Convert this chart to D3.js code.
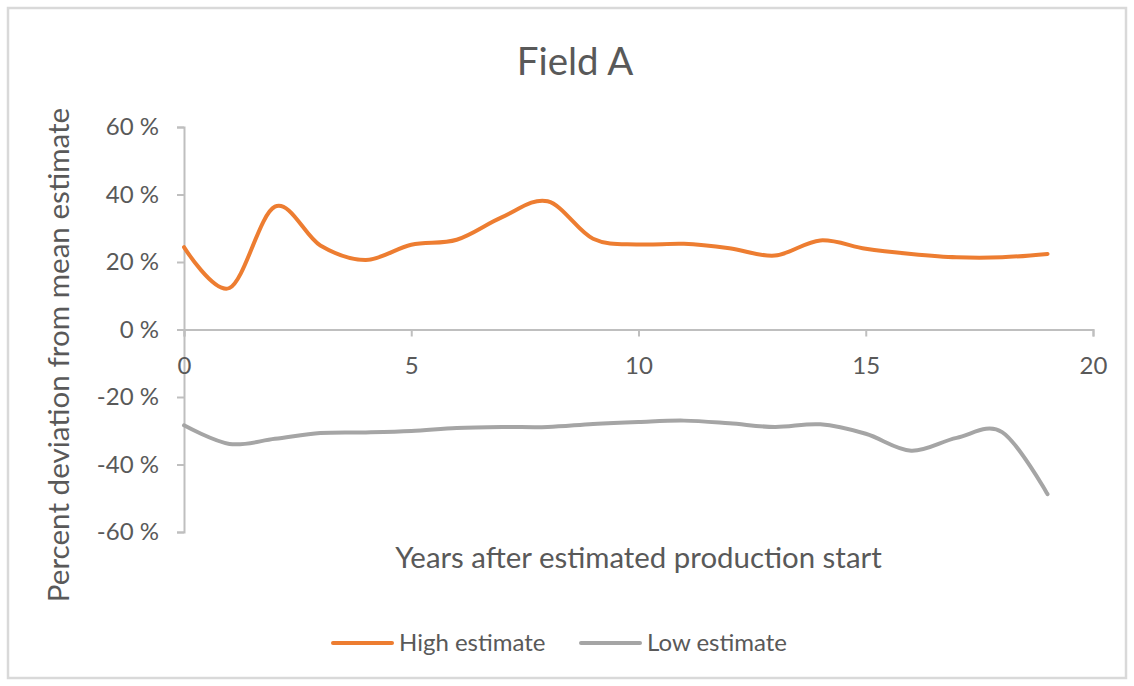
<!DOCTYPE html>
<html>
<head>
<meta charset="utf-8">
<script src="https://cdn.jsdelivr.net/npm/d3@7"></script>
<style>
  html, body { margin: 0; padding: 0; background: #fff; }
  svg { display: block; }
  text { font-family: Lato, "Open Sans", sans-serif; fill: #595959; }
</style>
</head>
<body>
<svg id="chart" width="1134" height="686"></svg>
<script>
// Years after estimated production start
const years = [0, 1, 2, 3, 4, 5, 6, 7, 8, 9, 10, 11, 12, 13, 14, 15, 16, 17, 18, 19];
// Percent deviation from mean estimate
const highEstimate = [24.4, 12.3, 36.4, 24.9, 20.6, 25.1, 26.6, 33.3, 38.0, 26.9, 25.2, 25.4, 24.1, 21.9, 26.4, 23.9, 22.4, 21.4, 21.4, 22.4];
const lowEstimate = [-28.4, -33.9, -32.4, -30.7, -30.5, -30.1, -29.2, -28.9, -28.9, -28.0, -27.4, -27.0, -27.8, -28.9, -28.1, -30.9, -35.9, -32.1, -30.4, -48.8];
const xTicks = [0, 5, 10, 15, 20];
const yTicks = [60, 40, 20, 0, -20, -40, -60];
const seriesNames = ["High estimate", "Low estimate"];
const seriesColors = ["#ED7D31", "#A5A5A5"];

const svg = d3.select("#chart");

// Chart border
svg.append("rect")
  .attr("x", 8).attr("y", 8)
  .attr("width", 1118).attr("height", 670)
  .attr("fill", "#fff")
  .attr("stroke", "#d9d9d9")
  .attr("stroke-width", 2.5);

const x = d3.scaleLinear().domain([0, 20]).range([184, 1093]);
const y = d3.scaleLinear().domain([-60, 60]).range([532, 127]);

const axisColor = "#bfbfbf";
const fmtPct = d => d + " %";

// Y axis on the left edge of the plot
const yAxis = svg.append("g")
  .attr("transform", `translate(${x(0)},0)`)
  .call(d3.axisLeft(y).tickValues(yTicks).tickSize(7).tickPadding(18).tickFormat(fmtPct));
yAxis.select(".domain").attr("stroke", axisColor).attr("stroke-width", 2);
yAxis.selectAll(".tick line").attr("stroke", axisColor).attr("stroke-width", 2);
yAxis.selectAll(".tick text")
  .attr("font-family", "Lato, sans-serif")
  .attr("font-size", 24)
  .attr("fill", "#595959");

// X axis crossing at zero
const xAxis = svg.append("g")
  .attr("transform", `translate(0,${y(0)})`)
  .call(d3.axisBottom(x).tickValues(xTicks).tickSize(7).tickPadding(20).tickFormat(d3.format("d")));
xAxis.select(".domain").attr("stroke", axisColor).attr("stroke-width", 2);
xAxis.selectAll(".tick line").attr("stroke", axisColor).attr("stroke-width", 2);
xAxis.selectAll(".tick text")
  .attr("font-family", "Lato, sans-serif")
  .attr("font-size", 24)
  .attr("fill", "#595959");

// Smoothed series lines
const line = d3.line()
  .x((d, i) => x(years[i]))
  .y(d => y(d))
  .curve(d3.curveCardinal.tension(0));

[highEstimate, lowEstimate].forEach((vals, k) => {
  svg.append("path")
    .datum(vals)
    .attr("d", line)
    .attr("fill", "none")
    .attr("stroke", seriesColors[k])
    .attr("stroke-width", 4)
    .attr("stroke-linecap", "round")
    .attr("stroke-linejoin", "round");
});

// Title
svg.append("text")
  .attr("x", 575).attr("y", 75)
  .attr("text-anchor", "middle")
  .attr("font-size", 38.5)
  .text("Field A");

// Axis titles
svg.append("text")
  .attr("x", x(10)).attr("y", 568)
  .attr("text-anchor", "middle")
  .attr("font-size", 29.4)
  .text("Years after estimated production start");

svg.append("text")
  .attr("transform", "translate(69,355) rotate(-90)")
  .attr("text-anchor", "middle")
  .attr("font-size", 29.6)
  .text("Percent deviation from mean estimate");

// Legend
const legendItems = [
  { name: seriesNames[0], color: seriesColors[0], x0: 333 },
  { name: seriesNames[1], color: seriesColors[1], x0: 581 }
];
legendItems.forEach(item => {
  svg.append("line")
    .attr("x1", item.x0).attr("x2", item.x0 + 59)
    .attr("y1", 643).attr("y2", 643)
    .attr("stroke", item.color)
    .attr("stroke-width", 4)
    .attr("stroke-linecap", "round");
  svg.append("text")
    .attr("x", item.x0 + 66).attr("y", 651)
    .attr("font-size", 24)
    .text(item.name);
});
</script>
</body>
</html>
